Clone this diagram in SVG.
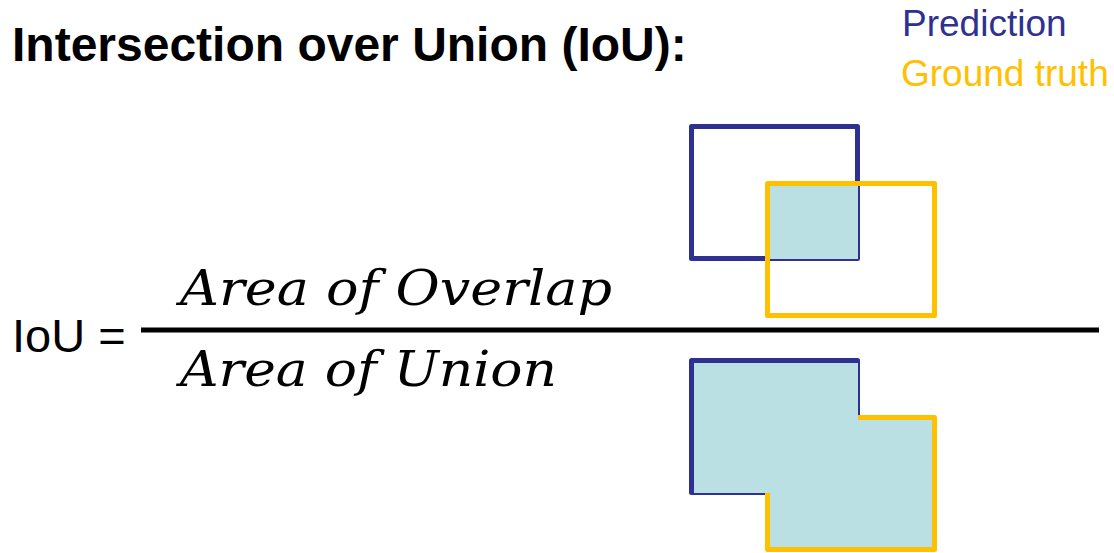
<svg xmlns="http://www.w3.org/2000/svg" width="1114" height="553" viewBox="0 0 1114 553">
  <style>
    .title { font-family: "Liberation Sans", Arial, sans-serif; font-weight: bold; font-size: 48px; fill: #000; }
    .legend { font-family: "Liberation Sans", Arial, sans-serif; font-size: 37px; }
    .eq { font-family: "Liberation Sans", Arial, sans-serif; font-size: 47px; fill: #000; }
    .math { font-family: "DejaVu Serif", "Liberation Serif", serif; font-style: italic; font-size: 49px; fill: #000; }
    .pred { fill: none; stroke: #2E3192; stroke-width: 5; stroke-linejoin: round; }
    .gt { fill: none; stroke: #FFC000; stroke-width: 5; stroke-linejoin: round; }
    .area { fill: #BBE0E3; stroke: none; }
  </style>

  <!-- heading -->
  <g id="title">
    <text class="title" x="12" y="61">Intersection over Union (IoU):</text>
  </g>

  <!-- colour key -->
  <g id="legend">
    <text class="legend" x="902" y="36" fill="#2E3192">Prediction</text>
    <text class="legend" x="901" y="86" fill="#FFC000">Ground truth</text>
  </g>

  <!-- formula -->
  <g id="formula">
    <text class="eq" x="12" y="352">IoU =</text>
    <text class="math" x="180" y="305" textLength="432" lengthAdjust="spacingAndGlyphs">Area of Overlap</text>
    <line x1="141" y1="330" x2="1099" y2="330" stroke="#000" stroke-width="5"/>
    <text class="math" x="180" y="386" textLength="377" lengthAdjust="spacingAndGlyphs">Area of Union</text>
  </g>

  <!-- overlap: the shared region of both boxes -->
  <g id="overlap">
    <rect class="pred" x="691.5" y="126.5" width="166" height="132"/>
    <rect class="gt" x="767.5" y="183.5" width="167" height="132"/>
    <rect class="area" x="770" y="186" width="88" height="73"/>
    <!-- yellow left edge stays on top of the blue bottom edge -->
    <line x1="767.5" y1="183.5" x2="767.5" y2="262" stroke="#FFC000" stroke-width="5"/>
  </g>

  <!-- union: everything covered by either box -->
  <g id="union">
    <rect class="pred" x="691.5" y="360.5" width="166" height="132"/>
    <rect class="gt" x="767.5" y="417.5" width="167" height="132"/>
    <path class="area" d="M694 363 H858 V420 H932 V547 H770 V493 H694 Z"/>
  </g>
</svg>
